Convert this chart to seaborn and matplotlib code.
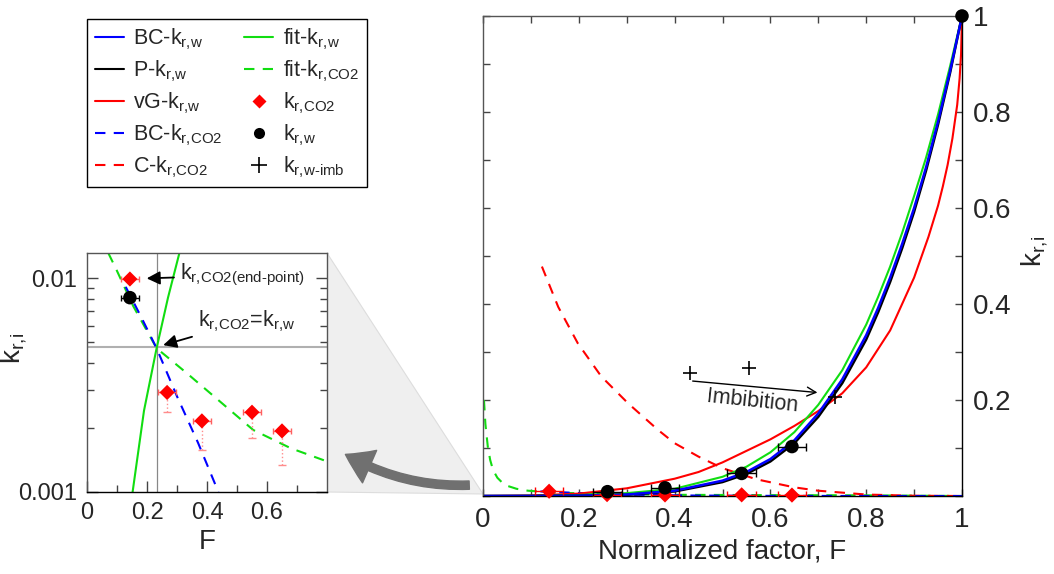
import numpy as np
import pandas as pd
import matplotlib
matplotlib.use("Agg")
import matplotlib.pyplot as plt
import seaborn as sns
from matplotlib.lines import Line2D
from matplotlib.patches import Polygon, FancyArrowPatch
from matplotlib.ticker import MultipleLocator, LogLocator, NullFormatter, FixedLocator

# ---------------- data ----------------
# main panel curves
F_w = [0, 0.1, 0.2, 0.3, 0.4, 0.5, 0.55, 0.6, 0.65, 0.7, 0.75, 0.8, 0.825, 0.85, 0.875,
       0.9, 0.925, 0.95, 0.975, 1.0]
bc_w = [0, 0.0001, 0.0006, 0.003, 0.011, 0.032, 0.050, 0.077, 0.116, 0.172, 0.243, 0.335,
        0.392, 0.455, 0.525, 0.600, 0.685, 0.780, 0.885, 1.0]
p_w = [0, 0.0001, 0.0005, 0.0025, 0.0095, 0.029, 0.046, 0.072, 0.110, 0.165, 0.235, 0.326,
       0.383, 0.446, 0.516, 0.592, 0.678, 0.774, 0.881, 1.0]
fit_w = [0, 0.0003, 0.002, 0.006, 0.015, 0.040, 0.061, 0.091, 0.133, 0.19, 0.262, 0.357,
         0.415, 0.478, 0.548, 0.625, 0.705, 0.795, 0.895, 1.0]

F_vg = [0, 0.1, 0.2, 0.3, 0.4, 0.45, 0.5, 0.55, 0.6, 0.65, 0.7, 0.75, 0.8, 0.85, 0.9,
        0.93, 0.95, 0.96, 0.97, 0.98, 0.99, 0.995, 0.998, 1.0]
vg_w = [0, 0.001, 0.005, 0.016, 0.036, 0.050, 0.07, 0.094, 0.118, 0.146, 0.177, 0.214,
        0.268, 0.345, 0.455, 0.54, 0.605, 0.645, 0.69, 0.745, 0.815, 0.87, 0.92, 1.0]

F_c = [0.123, 0.157, 0.198, 0.247, 0.303, 0.365, 0.40, 0.45, 0.5, 0.57, 0.65, 0.7, 0.8, 0.9, 1.0]
c_co2 = [0.478, 0.394, 0.318, 0.249, 0.193, 0.138, 0.11, 0.082, 0.058, 0.035, 0.018, 0.011,
         0.003, 0.0006, 0.0]

F_fc = [0.002, 0.005, 0.01, 0.015, 0.021, 0.03, 0.045, 0.07, 0.094, 0.15, 0.23, 0.4, 0.6, 0.8, 1.0]
fit_co2 = [0.2, 0.15, 0.103, 0.075, 0.054, 0.038, 0.023, 0.015, 0.011, 0.007, 0.0048, 0.0025,
           0.0018, 0.0014, 0.0]

F_bcc = [0.12, 0.2, 0.3, 0.44, 0.6, 0.8, 1.0]
bc_co2 = [0.0095, 0.0062, 0.0028, 0.001, 0.0003, 0.00005, 0.0]

# main panel points
F_co2_pts = [0.138, 0.259, 0.38, 0.54, 0.645]
k_co2_pts = [0.0099, 0.0029, 0.0022, 0.0024, 0.0019]
F_w_pts = [0.26, 0.38, 0.54, 0.645, 1.0]
k_w_pts = [0.009, 0.017, 0.047, 0.103, 1.0]
F_w_err = [0.03, 0.03, 0.03, 0.03, 0.0]
F_co2_err = [0.03, 0.03, 0.03, 0.03, 0.03]
F_imb = [0.432, 0.555, 0.735]
k_imb = [0.257, 0.267, 0.206]

# inset (log scale)
Fi_fit_w = [0.152, 0.19, 0.232, 0.27, 0.308]
ki_fit_w = [0.001, 0.0024, 0.0047, 0.0081, 0.0131]
Fi_bc_co2 = [0.129, 0.18, 0.232, 0.3, 0.37, 0.438]
ki_bc_co2 = [0.0091, 0.0066, 0.0047, 0.0028, 0.0017, 0.001]
Fi_fit_co2 = [0.071, 0.1, 0.154, 0.232, 0.332, 0.45, 0.554, 0.68, 0.8]
ki_fit_co2 = [0.0131, 0.0108, 0.0074, 0.0047, 0.0036, 0.0026, 0.00195, 0.0016, 0.00139]
Fi_co2_pts = [0.143, 0.267, 0.383, 0.55, 0.65]
ki_co2_pts = [0.0099, 0.00292, 0.00215, 0.00236, 0.00193]
ki_co2_low = [0.0, 0.00056, 0.00058, 0.00058, 0.00059]
Fi_w_pts = [0.143]
ki_w_pts = [0.0081]
cross_F = 0.232
cross_k = 0.00477

# ---------------- style ----------------
sns.set_style("ticks")
plt.rcParams['font.family'] = ['Liberation Sans', 'DejaVu Sans']
plt.rcParams['mathtext.fontset'] = 'custom'
plt.rcParams['mathtext.rm'] = 'Liberation Sans'
plt.rcParams['mathtext.it'] = 'Liberation Sans'
plt.rcParams['mathtext.bf'] = 'Liberation Sans:bold'

BLUE = '#0000ff'
RED = '#ff0000'
GREEN = '#11dd11'
DASH = (0, (5, 4))


def sub(main, s):
    return main + '$_{\\text{' + s + '}}$'


W, H = 1054, 574
fig = plt.figure(figsize=(W / 100, H / 100), dpi=100)
ax = fig.add_axes([483 / W, 1 - 496 / H, 479 / W, 480 / H])
axi = fig.add_axes([87 / W, 1 - 492 / H, 240 / W, 239 / H])


def line(a, x, y, color, ls='-', lw=1.5, z=2):
    sns.lineplot(x=x, y=y, ax=a, color=color, linewidth=lw, linestyle=ls,
                 sort=False, estimator=None, zorder=z, legend=False)


# ---------------- main panel ----------------
line(ax, F_fc, fit_co2, GREEN, DASH, z=2)
line(ax, F_bcc, bc_co2, BLUE, DASH, z=2.1)
line(ax, F_c, c_co2, RED, DASH, z=2)
line(ax, F_vg, vg_w, RED, '-', z=2.2)
line(ax, F_w, fit_w, GREEN, '-', z=2.3)
line(ax, F_w, p_w, 'black', '-', lw=1.8, z=2.4)
line(ax, F_w, bc_w, BLUE, '-', lw=1.8, z=2.5)

ax.errorbar(F_co2_pts, k_co2_pts, xerr=F_co2_err, fmt='none', ecolor=RED,
            elinewidth=1, capsize=3, zorder=3)
ax.errorbar(F_w_pts, k_w_pts, xerr=F_w_err, fmt='none', ecolor='black',
            elinewidth=1, capsize=3, zorder=3)
sns.scatterplot(x=F_co2_pts, y=k_co2_pts, ax=ax, marker='D', color=RED, s=60,
                edgecolor='none', zorder=5, clip_on=False)
sns.scatterplot(x=F_w_pts, y=k_w_pts, ax=ax, marker='o', color='black', s=95,
                edgecolor='none', zorder=6, clip_on=False)
sns.scatterplot(x=F_imb, y=k_imb, ax=ax, marker='+', color='black', s=110,
                linewidth=1.2, zorder=6)

ax.annotate('', xy=(0.704, 0.215), xytext=(0.432, 0.240),
            arrowprops=dict(arrowstyle='->', color='black', lw=1.0, mutation_scale=16))
ax.text(0.562, 0.198, 'Imbibition', fontsize=15.5, rotation=-6, ha='center', va='center')

ax.set_xlim(0, 1)
ax.set_ylim(0, 1)
ax.set_xticks([0, 0.2, 0.4, 0.6, 0.8, 1.0])
ax.set_xticklabels(['0', '0.2', '0.4', '0.6', '0.8', '1'])
ax.xaxis.set_minor_locator(MultipleLocator(0.1))
ax.set_yticks([0.2, 0.4, 0.6, 0.8, 1.0])
ax.set_yticklabels(['0.2', '0.4', '0.6', '0.8', '1'])
ax.yaxis.set_minor_locator(MultipleLocator(0.1))
ax.tick_params(which='both', direction='in', length=5, width=1, color='#444444',
               top=True, bottom=True, left=True, right=True,
               labelleft=False, labelright=True, labelsize=20, pad=8)
ax.set_ylabel(sub('k', 'r,i'), fontsize=20)
ax.yaxis.set_label_position('right')
ax.yaxis.set_label_coords(1.119, 0.51)
ax.set_xlabel('Normalized factor, F', fontsize=20, labelpad=4)
for s in ['left', 'top']:
    ax.spines[s].set_color('#555555')
for s in ['right', 'bottom']:
    ax.spines[s].set_color('black')
for s in ax.spines.values():
    s.set_linewidth(1.0)

# ---------------- inset panel ----------------
axi.set_yscale('log')
axi.axhline(cross_k, color='#b0b0b0', lw=1.5, zorder=1)
axi.axvline(cross_F, color='#888888', lw=0.9, zorder=1)
line(axi, Fi_fit_co2, ki_fit_co2, GREEN, DASH, z=2)
line(axi, Fi_bc_co2, ki_bc_co2, BLUE, DASH, z=2.1)
line(axi, Fi_fit_w, ki_fit_w, GREEN, '-', z=2.2)

eb = axi.errorbar(Fi_co2_pts, ki_co2_pts, yerr=[ki_co2_low, [0] * len(ki_co2_low)],
                  fmt='none', ecolor='#ff8c8c', elinewidth=1, capsize=3, zorder=3)
eb[2][0].set_linestyle(':')
axi.errorbar(Fi_co2_pts, ki_co2_pts, xerr=F_co2_err, fmt='none', ecolor='#ff6060',
             elinewidth=1, capsize=2.5, zorder=3)
axi.errorbar(Fi_w_pts, ki_w_pts, xerr=[0.03], fmt='none', ecolor='black',
             elinewidth=1, capsize=2.5, zorder=3)
sns.scatterplot(x=Fi_co2_pts, y=ki_co2_pts, ax=axi, marker='D', color=RED, s=60,
                edgecolor='none', zorder=5)
sns.scatterplot(x=Fi_w_pts, y=ki_w_pts, ax=axi, marker='o', color='black', s=95,
                edgecolor='none', zorder=5)

axi.annotate(sub('k', 'r,CO2(end-point)'), xy=(0.199, 0.00997), xytext=(0.31, 0.0103),
             fontsize=15.5, ha='left', va='center', annotation_clip=False,
             arrowprops=dict(arrowstyle='-|>', color='black', lw=1.3, mutation_scale=20,
                             shrinkA=2, shrinkB=0))
axi.annotate(sub('k', 'r,CO2') + '=' + sub('k', 'r,w'), xy=(0.254, 0.00486),
             xytext=(0.37, 0.0063),
             fontsize=15.5, ha='left', va='center', annotation_clip=False,
             arrowprops=dict(arrowstyle='-|>', color='black', lw=1.3, mutation_scale=20,
                             shrinkA=2, shrinkB=0))

axi.set_xlim(0, 0.8)
axi.set_ylim(0.001, 0.0131)
axi.set_xticks([0, 0.2, 0.4, 0.6])
axi.set_xticklabels(['0', '0.2', '0.4', '0.6'])
axi.xaxis.set_minor_locator(FixedLocator([0.1, 0.3, 0.5, 0.7]))
axi.set_yticks([0.001, 0.01])
axi.set_yticklabels(['0.001', '0.01'])
axi.yaxis.set_minor_locator(LogLocator(base=10, subs=np.arange(2, 10)))
axi.yaxis.set_minor_formatter(NullFormatter())
axi.tick_params(which='both', direction='in', color='#444444', width=1,
                left=True, right=True, top=False, bottom=True, labelsize=17, pad=7)
axi.tick_params(which='major', length=8)
axi.tick_params(which='minor', length=5)
axi.set_xlabel('F', fontsize=20, labelpad=4)
axi.set_ylabel(sub('k', 'r,i'), fontsize=20)
axi.yaxis.set_label_coords(-0.24, 0.60)
for s in axi.spines.values():
    s.set_color('#555555')
    s.set_linewidth(1.0)
axi.spines['bottom'].set_color('black')

# ---------------- connecting shading and arrow ----------------
tri = Polygon([(327 / W, 1 - 253 / H), (483 / W, 1 - 494 / H), (327 / W, 1 - 492 / H)],
              closed=True, transform=fig.transFigure, facecolor='#efefef',
              edgecolor='#dddddd', lw=0.8, zorder=0)
fig.add_artist(tri)
arr = FancyArrowPatch(posA=(472 / W, 1 - 485 / H), posB=(343 / W, 1 - 453 / H),
                      transform=fig.transFigure, connectionstyle='arc3,rad=-0.15',
                      arrowstyle='simple,head_length=1.3,head_width=1.7,tail_width=0.4',
                      mutation_scale=15, color='#707070', zorder=5)
fig.add_artist(arr)

# ---------------- legend ----------------
handles = [
    Line2D([], [], color=BLUE, lw=1.5, label=sub('BC-k', 'r,w')),
    Line2D([], [], color='black', lw=1.5, label=sub('P-k', 'r,w')),
    Line2D([], [], color=RED, lw=1.5, label=sub('vG-k', 'r,w')),
    Line2D([], [], color=BLUE, lw=1.5, ls=DASH, label=sub('BC-k', 'r,CO2')),
    Line2D([], [], color=RED, lw=1.5, ls=DASH, label=sub('C-k', 'r,CO2')),
    Line2D([], [], color=GREEN, lw=1.5, label=sub('fit-k', 'r,w')),
    Line2D([], [], color=GREEN, lw=1.5, ls=DASH, label=sub('fit-k', 'r,CO2')),
    Line2D([], [], color=RED, marker='D', ls='none', ms=7, mec='none', label=sub('k', 'r,CO2')),
    Line2D([], [], color='black', marker='o', ls='none', ms=8, mec='none', label=sub('k', 'r,w')),
    Line2D([], [], color='black', marker='+', ls='none', ms=12, mew=1.2, label=sub('k', 'r,w-imb')),
]
leg = fig.legend(handles=handles, loc='upper left', bbox_to_anchor=(87 / W, 1 - 19 / H),
                 ncol=2, frameon=True, fancybox=False, edgecolor='black', framealpha=1,
                 fontsize=15.5, handlelength=1.35, handletextpad=0.45, columnspacing=1.0,
                 labelspacing=0.3, borderaxespad=0, borderpad=0.35)
leg.get_frame().set_linewidth(1.0)

fig.savefig('out.png', dpi=100)
